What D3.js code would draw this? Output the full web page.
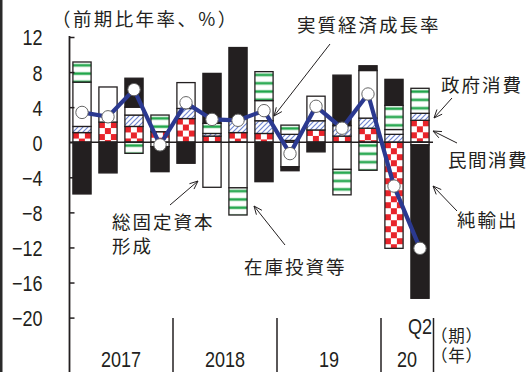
<!DOCTYPE html>
<html><head><meta charset="utf-8">
<script src="https://cdn.jsdelivr.net/npm/d3@7"></script>
<style>
html,body{margin:0;padding:0;background:#fff;}
svg{display:block;}
.num{font-family:"Liberation Sans",Arial,sans-serif;fill:#231f20;}
.jp{font-family:"Noto Sans CJK JP","Noto Sans",sans-serif;fill:#231f20;}
</style></head><body>
<svg id="chart" width="529" height="372"></svg>
<script>
// Quarterly contributions to real GDP growth (annualised q/q, % points)
const quarters = ["2017Q1","2017Q2","2017Q3","2017Q4","2018Q1","2018Q2","2018Q3","2018Q4",
                  "2019Q1","2019Q2","2019Q3","2019Q4","2020Q1","2020Q2"];
const yearLabels = ["2017","2018","19","20"];
const yearQuarterCounts = [4,4,4,2];
const lastQuarterLabel = "Q2";

const privateConsumption    = [1.1, 2.3, 1.8, 1.2, 2.7, 0.7, 1.1, 1.0, 0.2, 1.4, 0.7, 1.6, -12.1, 2.5];
const governmentConsumption = [0.7, 0.0, 1.3, 0.0, 1.15, 0.3, 1.6, 1.45, 0.7, 1.05, 1.2, 1.15, 0.9, 0.8];
const fixedCapital          = [5.05, 4.0, 0.9, -0.5, 2.95, -5.14, -5.2, 2.3, -2.8, 2.8, -3.1, 5.43, 0.55, -0.3];
const inventories           = [2.3, 0.0, -1.27, 1.9, 0.0, 1.15, -3.1, 3.3, 1.05, 0.0, -2.9, -3.2, 2.75, 2.85];
const netExports            = [-5.9, -3.5, 3.3, -2.86, -2.4, 5.7, 8.1, -4.5, -0.45, -1.1, 5.75, 0.54, 2.97, -17.5];
const realGrowth            = [3.4, 2.9, 6.0, -0.3, 4.5, 2.6, 2.5, 3.6, -1.3, 4.1, 1.6, 5.5, -5.0, -12.1];

const yTicks = [12, 8, 4, 0, -4, -8, -12, -16, -20];

const seriesKeys = ["priv","gov","gfcf","inv","nx"];
const rows = quarters.map((q, i) => ({
  q,
  priv: privateConsumption[i],
  gov: governmentConsumption[i],
  gfcf: fixedCapital[i],
  inv: inventories[i],
  nx: netExports[i]
}));

const svg = d3.select("#chart");
const ink = "#231f20";
const NUM_SIZE = 22, NUM_SQUEEZE = 0.82;   // narrow figures

const x = d3.scaleBand().domain(quarters).range([69, 433]).paddingInner(0.3).paddingOuter(0.15);
const y = d3.scaleLinear().domain([-20, 12]).range([317.6, 37]);

svg.append("rect").attr("x",0).attr("y",0).attr("width",2.5).attr("height",372).attr("fill","#2a2a2a");

const defs = svg.append("defs");

// diagonal blue hatching (government consumption)
const hatch = defs.append("pattern").attr("id","hatch").attr("patternUnits","userSpaceOnUse")
  .attr("width",5).attr("height",5);
hatch.append("rect").attr("width",5).attr("height",5).attr("fill","#fff");
hatch.append("path").attr("d","M-1,1 L1,-1 M0,5 L5,0 M4,6 L6,4")
  .attr("stroke","#6f86d2").attr("stroke-width",1.2);

// stacked segments
const stacked = d3.stack().keys(seriesKeys).offset(d3.stackOffsetDiverging)(rows);
const segG = svg.append("g");
let pid = 0;

function segFill(key, x0, top) {
  if (key === "nx") return ink;
  if (key === "gfcf") return "#fff";
  if (key === "gov") return "url(#hatch)";
  const id = "p" + (pid++);
  if (key === "priv") {
    const p = defs.append("pattern").attr("id", id).attr("patternUnits","userSpaceOnUse")
      .attr("x", x0).attr("y", top).attr("width", 12).attr("height", 12);
    p.append("rect").attr("width",12).attr("height",12).attr("fill","#fff");
    p.append("rect").attr("width",6).attr("height",6).attr("fill","#e8242b");
    p.append("rect").attr("x",6).attr("y",6).attr("width",6).attr("height",6).attr("fill","#e8242b");
  } else {
    const p = defs.append("pattern").attr("id", id).attr("patternUnits","userSpaceOnUse")
      .attr("x", x0).attr("y", top).attr("width", 8).attr("height", 8.3);
    p.append("rect").attr("width",8).attr("height",8.3).attr("fill","#fff");
    p.append("rect").attr("y",1.6).attr("width",8).attr("height",3.4).attr("fill","#a8dcb5");
    p.append("rect").attr("y",2.3).attr("width",8).attr("height",2).attr("fill","#1fa54a");
  }
  return "url(#" + id + ")";
}

stacked.forEach(s => {
  s.forEach((d, i) => {
    const v0 = d[0], v1 = d[1];
    if (Math.abs(v1 - v0) < 0.01) return;
    const q = quarters[i];
    const top = y(Math.max(v0, v1));
    const h = Math.abs(y(v0) - y(v1));
    const bx = x(q);
    segG.append("rect")
      .attr("x", bx).attr("y", top)
      .attr("width", x.bandwidth()).attr("height", h)
      .attr("fill", segFill(s.key, bx, top))
      .attr("stroke", ink).attr("stroke-width", 1.3);
  });
});

// zero line
svg.append("line").attr("x1",69).attr("x2",433).attr("y1",y(0)).attr("y2",y(0))
  .attr("stroke",ink).attr("stroke-width",1.5);

// y axis: inward ticks, narrow labels
const yAxis = d3.axisLeft(y).tickValues(yTicks).tickSize(-5).tickPadding(27);
const ax = svg.append("g").attr("transform","translate(69.5,0)").call(yAxis);
ax.select(".domain").remove();
ax.selectAll(".tick line").attr("stroke",ink).attr("stroke-width",1.5);
ax.selectAll(".tick text")
  .attr("class","num").attr("font-size",NUM_SIZE).attr("dy","0.36em")
  .attr("x", -27 / NUM_SQUEEZE).attr("transform", `scale(${NUM_SQUEEZE},1)`);
svg.append("line").attr("x1",69.5).attr("x2",69.5).attr("y1",36).attr("y2",372)
  .attr("stroke",ink).attr("stroke-width",1.8);

function num(txt, tx, ty) {
  svg.append("text").attr("class","num").attr("font-size",NUM_SIZE).attr("text-anchor","middle")
    .attr("transform",`translate(${tx},${ty}) scale(${NUM_SQUEEZE},1)`).text(txt);
}

// year separators and labels
let acc = 0;
yearQuarterCounts.forEach((n, k) => {
  const start = x.step() * acc + 69;
  acc += n;
  const end = x.step() * acc + 69;
  if (k > 0) {
    svg.append("line").attr("x1",start).attr("x2",start).attr("y1",318).attr("y2",372)
      .attr("stroke",ink).attr("stroke-width",1.5);
  }
  num(yearLabels[k], (start+end)/2, 367.3);
});
svg.append("line").attr("x1",433.5).attr("x2",433.5).attr("y1",318).attr("y2",372)
  .attr("stroke",ink).attr("stroke-width",1.5);
num(lastQuarterLabel, x(quarters[quarters.length-1]) + x.bandwidth()/2, 334);

// growth line
const cx = q => x(q) + x.bandwidth()/2;
svg.append("path")
  .attr("d", d3.line().x((v,i)=>cx(quarters[i])).y(v=>y(v))(realGrowth))
  .attr("fill","none").attr("stroke","#2b3990").attr("stroke-width",4.2).attr("stroke-linejoin","round");
svg.append("g").selectAll("circle").data(realGrowth).join("circle")
  .attr("cx",(v,i)=>cx(quarters[i])).attr("cy",v=>y(v)).attr("r",6.2)
  .attr("fill","#fff").attr("stroke","#666").attr("stroke-width",1);

// text labels
function jp(txt, tx, ty, size, ls) {
  svg.append("text").attr("class","jp").attr("x",tx).attr("y",ty)
    .attr("font-size",size).attr("letter-spacing",ls).text(txt);
}
jp("（前期比年率、%）", 52, 25.5, 18.5, 2.4);
jp("実質経済成長率", 297, 31.5, 18.5, 2);
jp("政府消費", 441, 91.5, 18.5, 2);
jp("民間消費", 448, 166.5, 18.5, 1.5);
jp("純輸出", 457, 226.5, 18.5, 2);
jp("在庫投資等", 244, 273.5, 18.5, 2);
jp("総固定資本", 112, 228.5, 18.5, 2);
jp("形成", 112, 253, 18.5, 2);

// axis unit captions (period / year), stacked in one block
const unitText = svg.append("text").attr("class","jp").attr("font-size",16.5).attr("letter-spacing",0.8);
unitText.append("tspan").attr("x",431).attr("y",342).text("（期）");
unitText.append("tspan").attr("x",431).attr("y",362).text("（年）");

// leader arrows
function arrow(x1, y1, x2, y2) {
  const a = Math.atan2(y1 - y2, x1 - x2);
  const L = 9, s = 0.4;
  const p = `M${x1},${y1}L${x2},${y2}` +
    `M${x2 + L*Math.cos(a+s)},${y2 + L*Math.sin(a+s)}L${x2},${y2}L${x2 + L*Math.cos(a-s)},${y2 + L*Math.sin(a-s)}`;
  svg.append("path").attr("d",p).attr("fill","none").attr("stroke",ink).attr("stroke-width",1);
}
arrow(330, 44, 274, 116);
arrow(452, 98, 434, 118);
arrow(457, 143, 433, 131);
arrow(457, 211, 433, 186);
arrow(285, 245, 254, 206);
arrow(170, 205, 198, 181);
</script>
</body></html>
